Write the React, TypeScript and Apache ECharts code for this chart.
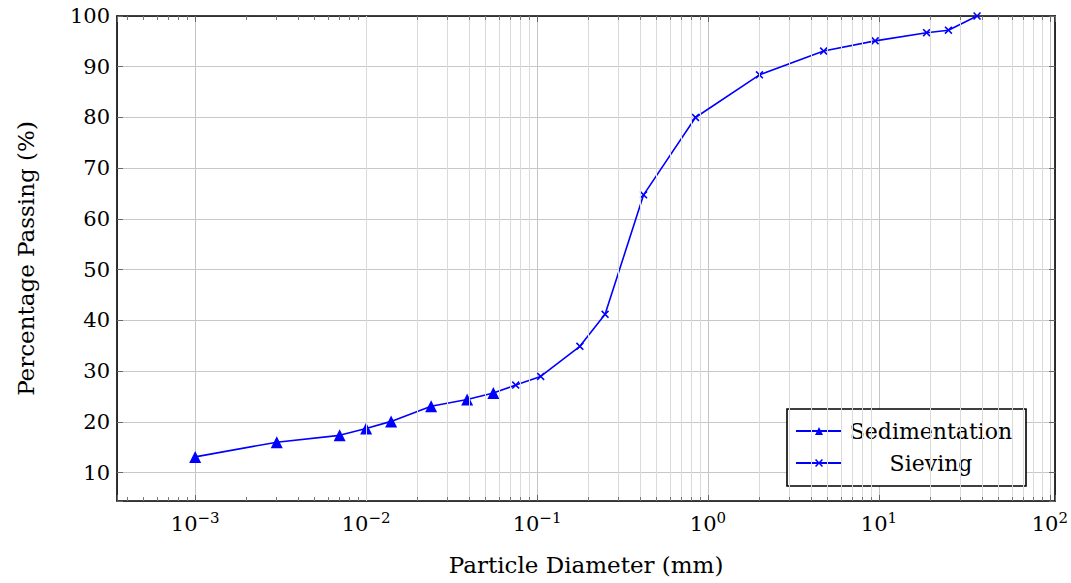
import React, { useEffect, useRef } from "react";
import * as echarts from "echarts";

// Sedimentation (hydrometer) results
const sedDiameter = [0.001, 0.003, 0.007, 0.01, 0.014, 0.024, 0.039, 0.0555];
const sedPassing = [13.1, 16.0, 17.35, 18.7, 20.1, 23.1, 24.4, 25.7];

// Sieve analysis results
const sieveDiameter = [0.075, 0.105, 0.178, 0.25, 0.42, 0.845, 2.0, 4.75, 9.5, 19.0, 25.5, 37.5];
const sievePassing = [27.25, 28.95, 34.9, 41.2, 64.75, 80.0, 88.4, 93.1, 95.1, 96.7, 97.2, 100];

const seriesNames = ["Sedimentation", "Sieving"];
const xTitle = "Particle Diameter (mm)";
const yTitle = "Percentage Passing (%)";
const yTicks = [10, 20, 30, 40, 50, 60, 70, 80, 90, 100];

const FONT = "DejaVu Serif";
const BLUE = "#0000ff";
const CROSS =
  "path://M0,1.4L1.4,0L5,3.6L8.6,0L10,1.4L6.4,5L10,8.6L8.6,10L5,6.4L1.4,10L0,8.6L3.6,5Z";

export default function App() {
  const ref = useRef<HTMLDivElement>(null);

  useEffect(() => {
    if (!ref.current) return;
    const chart = echarts.init(ref.current, undefined, { renderer: "svg" });

    const allX = [...sedDiameter, ...sieveDiameter];
    const lx0 = Math.log10(Math.min(...allX));
    const lx1 = Math.log10(Math.max(...allX));
    const pad = (lx1 - lx0) * 0.1;
    const xMin = Math.pow(10, lx0 - pad);
    const xMax = Math.pow(10, lx1 + pad);
    const yMinData = Math.min(...sedPassing);
    const yMax = yTicks[yTicks.length - 1];
    const yMin = yMinData - (yMax - yMinData) * 0.1;
    const yStep = yTicks[1] - yTicks[0];

    const plotH = 583 - 16 - 82;
    const minorTickLen = (4 / plotH) * (yMax - yMin); // 4px expressed in y units

    const minorLines: number[] = [];
    for (let e = Math.floor(lx0 - pad); e <= Math.ceil(lx1 + pad); e++) {
      for (let m = 2; m <= 9; m++) {
        const v = m * Math.pow(10, e);
        if (v > xMin && v < xMax) minorLines.push(v);
      }
    }

    const isPow10 = (v: number) => {
      const l = Math.log10(v);
      return Math.abs(l - Math.round(l)) < 1e-6;
    };

    const xLabel = {
      fontFamily: FONT,
      fontSize: 21,
      color: "#000",
      margin: 9,
      formatter: (v: number) => {
        if (!isPow10(v)) return "";
        const e = Math.round(Math.log10(v));
        const s = e < 0 ? "\u2212" + Math.abs(e) : String(e);
        return `{b|10}{s|${s}}`;
      },
      rich: {
        b: { fontFamily: FONT, fontSize: 21, lineHeight: 28, color: "#000" },
        s: { fontFamily: FONT, fontSize: 15, lineHeight: 16, verticalAlign: "top", color: "#000" },
      },
    };

    const axisLine = { show: true, lineStyle: { color: "#000", width: 1.6 } };
    const tick = { show: true, inside: true, length: 6, lineStyle: { color: "#666" } };

    const sedData = sedDiameter.map((d, i) => [d, sedPassing[i]]);
    const sieveData: any[] = [
      { value: [sedDiameter[sedDiameter.length - 1], sedPassing[sedPassing.length - 1]], symbol: "none" },
      ...sieveDiameter.map((d, i) => [d, sievePassing[i]]),
    ];

    const yAxisBase = {
      type: "value",
      min: yMin,
      max: yMax,
      splitNumber: 10,
      minInterval: yStep,
      maxInterval: yStep,
    };

    const minorTickSegs: any[] = [];
    minorLines.forEach((v) => {
      minorTickSegs.push([{ coord: [v, yMin] }, { coord: [v, yMin + minorTickLen] }]);
      minorTickSegs.push([{ coord: [v, yMax - minorTickLen] }, { coord: [v, yMax] }]);
    });

    chart.setOption({
      animation: false,
      backgroundColor: "#fff",
      grid: { left: 117, right: 15, top: 16, bottom: 82, containLabel: false },
      legend: {
        data: seriesNames,
        orient: "vertical",
        left: 787,
        top: 409,
        borderColor: "#000",
        borderWidth: 1.6,
        padding: [11, 11, 12, 8],
        itemGap: 10,
        itemWidth: 46,
        itemHeight: 10,
        backgroundColor: "#fff",
        formatter: (n: string) => `{c|${n}}`,
        textStyle: {
          fontFamily: FONT,
          fontSize: 22,
          color: "#000",
          rich: {
            c: { fontFamily: FONT, fontSize: 22, lineHeight: 28, width: 168, align: "center", color: "#000" },
          },
        },
      },
      xAxis: [
        {
          type: "log",
          logBase: 10,
          min: xMin,
          max: xMax,
          name: xTitle,
          nameLocation: "middle",
          nameGap: 52,
          nameTextStyle: { fontFamily: FONT, fontSize: 23, color: "#000" },
          axisLine,
          axisTick: tick,
          axisLabel: xLabel,
          splitLine: { show: true, lineStyle: { color: "#c4c4c4", width: 1 } },
        },
        {
          type: "log",
          logBase: 10,
          min: xMin,
          max: xMax,
          position: "top",
          axisLine,
          axisTick: tick,
          axisLabel: { show: false },
          splitLine: { show: false },
        },
      ],
      yAxis: [
        {
          ...yAxisBase,
          name: yTitle,
          nameLocation: "middle",
          nameRotate: 90,
          nameGap: 80,
          nameTextStyle: { fontFamily: FONT, fontSize: 23, color: "#000" },
          axisLine,
          axisTick: tick,
          axisLabel: {
            fontFamily: FONT,
            fontSize: 21,
            color: "#000",
            margin: 7,
            formatter: (v: number) => (yTicks.some((t) => Math.abs(t - v) < 1e-6) ? String(v) : ""),
          },
          splitLine: { show: true, lineStyle: { color: "#c8c8c8", width: 1 } },
        },
        {
          ...yAxisBase,
          position: "right",
          axisLine,
          axisTick: tick,
          axisLabel: { show: false },
          splitLine: { show: false },
        },
      ],
      series: [
        {
          name: "minorGrid",
          type: "line",
          data: [],
          silent: true,
          z: 0,
          markLine: {
            silent: true,
            symbol: "none",
            label: { show: false },
            lineStyle: { color: "#dadada", width: 1, type: "solid" },
            emphasis: { disabled: true },
            data: minorLines.map((v) => ({ xAxis: v })),
          },
        },
        {
          name: "minorTicks",
          type: "line",
          data: [],
          silent: true,
          z: 1,
          markLine: {
            silent: true,
            symbol: "none",
            label: { show: false },
            lineStyle: { color: "#777", width: 1, type: "solid" },
            emphasis: { disabled: true },
            data: minorTickSegs,
          },
        },
        {
          name: seriesNames[0],
          type: "line",
          data: sedData,
          symbol: "triangle",
          symbolSize: 12,
          lineStyle: { color: BLUE, width: 1.6 },
          itemStyle: { color: BLUE },
          z: 3,
        },
        {
          name: seriesNames[1],
          type: "line",
          data: sieveData,
          symbol: CROSS,
          symbolSize: 8,
          lineStyle: { color: BLUE, width: 1.6 },
          itemStyle: { color: BLUE },
          z: 3,
        },
      ],
    });

    return () => chart.dispose();
  }, []);

  return (
    <div
      ref={ref}
      style={{ position: "fixed", left: 0, top: 0, width: 1071, height: 583, background: "#fff" }}
    />
  );
}
